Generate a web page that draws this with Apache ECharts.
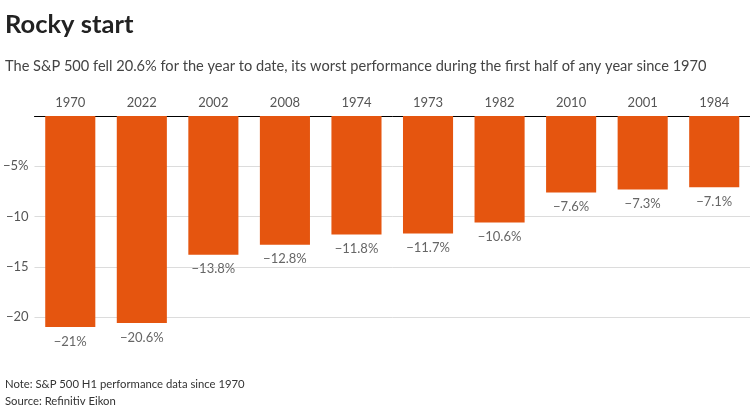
<!DOCTYPE html>
<html>
<head>
<meta charset="utf-8">
<script src="https://cdn.jsdelivr.net/npm/echarts@6/dist/echarts.min.js"></script>
<style>
  html, body { margin: 0; padding: 0; background: #fff; }
  #chart { width: 750px; height: 408px; }
</style>
</head>
<body>
<div id="chart"></div>
<script>
const years = ['1970', '2022', '2002', '2008', '1974', '1973', '1982', '2010', '2001', '1984'];
const changes = [-21, -20.6, -13.8, -12.8, -11.8, -11.7, -10.6, -7.6, -7.3, -7.1];
const yTicks = [-20, -15, -10, -5];

const MINUS = '\u2212';
function fmtVal(v) { return (v < 0 ? MINUS : '') + Math.abs(v) + '%'; }

const chart = echarts.init(document.getElementById('chart'), null, { renderer: 'canvas' });
chart.setOption({
  animation: false,
  backgroundColor: '#fff',
  title: [
    { text: 'Rocky start', left: 0, top: 7,
      textStyle: { fontFamily: 'Lato', fontWeight: 'bold', fontSize: 25.5, color: '#222' } },
    { text: 'The S&P 500 fell 20.6% for the year to date, its worst performance during the first half of any year since 1970',
      left: 0, top: 54,
      textStyle: { fontFamily: 'Lato', fontWeight: 'normal', fontSize: 14.6, color: '#444' } },
    { text: 'Note: S&P 500 H1 performance data since 1970', left: 0, top: 374,
      textStyle: { fontFamily: 'Lato', fontWeight: 'normal', fontSize: 11.3, color: '#333' } },
    { text: 'Source: Refinitiv Eikon', left: 0, top: 391,
      textStyle: { fontFamily: 'Lato', fontWeight: 'normal', fontSize: 11.3, color: '#333' } }
  ],
  grid: { left: 32, right: 0, top: 116, bottom: 40.7, containLabel: false },
  xAxis: {
    type: 'category',
    position: 'top',
    data: years,
    axisLine: { show: true, lineStyle: { color: '#000', width: 1 } },
    axisTick: { show: false },
    axisLabel: { margin: 7, fontFamily: 'Lato', fontSize: 13, color: '#555' },
    splitLine: { show: false }
  },
  yAxis: {
    type: 'value',
    min: -25, max: 0, interval: 5,
    axisLine: { show: false },
    axisTick: { show: false },
    axisLabel: {
      margin: 6, fontFamily: 'Lato', fontSize: 13, color: '#555',
      showMinLabel: false,
      formatter: function (v) {
        if (!yTicks.includes(v)) return '';
        return v === -5 ? MINUS + '5%' : MINUS + Math.abs(v);
      }
    },
    splitLine: { show: true, showMinLine: false, showMaxLine: false, lineStyle: { color: '#dcdcdc', width: 1 } }
  },
  series: [{
    type: 'bar',
    data: changes,
    barCategoryGap: '30%',
    itemStyle: { color: '#e5550f' },
    label: {
      show: true, position: 'bottom', distance: 8,
      fontFamily: 'Lato', fontSize: 13, color: '#666',
      formatter: function (p) { return fmtVal(p.value); }
    }
  }]
});
</script>
</body>
</html>
